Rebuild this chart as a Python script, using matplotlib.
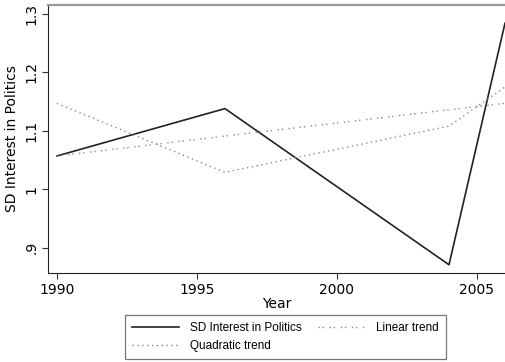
import matplotlib
matplotlib.use("Agg")
import matplotlib.pyplot as plt

plt.rcParams['font.family'] = ['DejaVu Sans']

years = [1990, 1996, 2004, 2006]
sd_interest = [1.057, 1.138, 0.871, 1.284]
linear_trend = [1.057, 1.091, 1.136, 1.147]
quadratic_trend = [1.147, 1.029, 1.108, 1.175]

xticks = [1990, 1995, 2000, 2005]
yticks = [0.9, 1.0, 1.1, 1.2, 1.3]
ytick_labels = [".9", "1", "1.1", "1.2", "1.3"]

fig = plt.figure(figsize=(5.05, 3.62), dpi=100)
ax = fig.add_axes([0.095, 0.246, 0.905, 0.740])

l1, = ax.plot(years, sd_interest, color='#222222', lw=1.2, label='SD Interest in Politics')
l3, = ax.plot(years, quadratic_trend, color='#8a8a8a', lw=1.0, ls=(0, (1, 2.5)), label='Quadratic trend')
l2, = ax.plot(years, linear_trend, color='#8a8a8a', lw=1.0, ls=(0, (1, 2, 1, 4)), label='Linear trend')

ax.set_xlim(1989.68, 2006.0)
ax.set_ylim(0.857, 1.315)
ax.set_xticks(xticks)
ax.set_xticklabels([str(x) for x in xticks], fontsize=10)
ax.set_yticks(yticks)
ax.set_yticklabels(ytick_labels, fontsize=10, rotation=90, va='center')
ax.tick_params(axis='both', length=4, width=0.8, color='#333333', pad=3)
ax.set_xlabel('Year', fontsize=10, labelpad=0)
ax.set_ylabel('SD Interest in Politics', fontsize=10, labelpad=4)

ax.spines['top'].set_color('#999999')
ax.spines['top'].set_linewidth(1.6)
ax.spines['right'].set_visible(False)
ax.spines['left'].set_color('#222222')
ax.spines['bottom'].set_color('#222222')

leg = fig.legend(handles=[l1, l3, l2], ncol=2, loc='center',
                 bbox_to_anchor=(0.565, 0.068),
                 prop={'family': 'Liberation Sans', 'size': 8.5},
                 handlelength=4.0, columnspacing=1.4, fancybox=False,
                 edgecolor='#777777', framealpha=1, borderpad=0.6,
                 labelspacing=0.5, handletextpad=0.9)
leg.get_frame().set_linewidth(0.9)

fig.savefig('out.png', dpi=100)
